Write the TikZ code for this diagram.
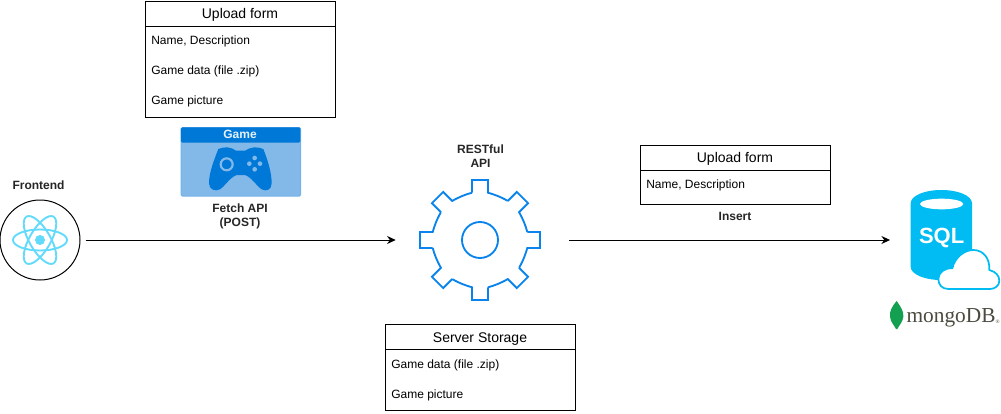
\documentclass[tikz,border=0pt]{standalone}
\usepackage{fontspec}
\setmainfont{Liberation Sans}
\newfontfamily\logofont{Liberation Serif}
\usetikzlibrary{arrows.meta}
\definecolor{gamedark}{HTML}{0078D7}
\definecolor{gamelight}{HTML}{83B9E9}
\definecolor{reactblue}{HTML}{61DAFB}
\definecolor{gearblue}{HTML}{0A84EC}
\definecolor{sqlblue}{HTML}{00BCF2}
\definecolor{leafgreen}{HTML}{13A050}
\definecolor{logogrey}{HTML}{4A4A40}
\tikzset{
  flow/.style={-{Stealth[length=6.5pt,width=6pt]},line width=.75pt,black},
  tablebox/.style={draw=black,fill=white,line width=.75pt,minimum width=142.5pt,inner sep=0pt,anchor=north west},
  headtxt/.style={font=\fontsize{10.5}{12}\selectfont,inner sep=0pt},
  rowtxt/.style={font=\fontsize{9}{10.5}\selectfont,inner sep=0pt,anchor=west},
  lbl/.style={font=\bfseries\fontsize{9}{10.5}\selectfont,inner sep=0pt,align=center,text=black!85},
  zoomed/.style={x=.25pt,y=-.25pt}
}
\begin{document}
\begin{tikzpicture}[x=.75pt,y=-.75pt]
\useasboundingbox (0,0) rectangle (1001,414);

% Frontend
\node[lbl] (frontlbl) at (38.5,185) {Frontend};
\node[circle,draw=black,fill=white,line width=.75pt,minimum size=60pt,inner sep=0pt] (react) at (40,240) {};
\foreach \a in {0,60,120}
  \draw[reactblue,line width=1.4pt,rotate around={\a:(40,240)}] (40,240) ellipse [x radius=27,y radius=10.5];
\fill[reactblue] (40,240) circle [radius=5];

% Game card
\node[draw=gamelight!90!gamedark,fill=gamelight,line width=.75pt,rounded corners=1pt,minimum width=89.5pt,minimum height=51.5pt,inner sep=0pt,anchor=north west] (card) at (180.7,127) {};
\node[fill=gamedark,rounded corners=1pt,minimum width=89.5pt,minimum height=11.5pt,inner sep=0pt,anchor=north west] (cardhead) at (180.7,127) {};
\node[font=\bfseries\fontsize{9}{10}\selectfont,text=white!90!gamedark,inner sep=0pt] (cardtitle) at (240,134) {Game};
\begin{scope}[shift={(0,120)},zoomed]
  \fill[gamedark] (655,87) .. controls (675,78) and (695,82) .. (708,92)
    -- (735,92) .. controls (750,82) and (770,78) .. (790,87)
    .. controls (805,125) and (815,160) .. (815,190)
    .. controls (815,208) and (800,216) .. (785,208)
    .. controls (770,198) and (755,172) .. (735,165)
    -- (710,165) .. controls (690,172) and (675,198) .. (660,208)
    .. controls (645,216) and (627,208) .. (627,190)
    .. controls (627,160) and (640,125) .. (655,87) -- cycle;
  \draw[gamelight,line width=1.6pt] (680,133) circle [radius=18];
  \foreach \p in {(764,114),(748,131),(780,131),(764,148)}
    \fill[gamelight] \p circle [radius=7];
\end{scope}
\node[lbl] (fetchlbl) at (240,216) {Fetch API\\(POST)};

% Upload form (left)
\node[tablebox,minimum height=87pt] (form) at (144.8,0.5) {};
\draw[line width=.75pt] (144.8,26.5) -- (334.8,26.5);
\node[headtxt] (formhead) at (240,15) {Upload form};
\node[rowtxt] (forma) at (151,41) {Name, Description};
\node[rowtxt] (formb) at (151,71) {Game data (file .zip)};
\node[rowtxt] (formc) at (151,101) {Game picture};

% Gear
\node[lbl] (apilbl) at (480.5,156) {RESTful\\API};
\node[circle,minimum size=90pt,inner sep=0pt] (api) at (480,240) {};
\begin{scope}[shift={(480,240)}]
\foreach \a in {0,45,...,315}{
  \begin{scope}[rotate=\a]
  \draw[gearblue,line width=1.4pt,line join=miter]
    (47.3,-8) -- (60,-8) -- (60,8) -- (47.3,8)
    .. controls (45.5,14.5) and (42.8,21.5) .. (39.1,27.8);
  \end{scope}
}
\draw[gearblue,line width=1.4pt] (0,0) circle [radius=18];
\end{scope}

% Upload form (right)
\node[tablebox,minimum height=44.25pt] (upload) at (639.8,144.5) {};
\draw[line width=.75pt] (639.8,170.5) -- (829.8,170.5);
\node[headtxt] (uploadhead) at (735,159) {Upload form};
\node[rowtxt] (uploada) at (646,185) {Name, Description};
\node[lbl] (insertlbl) at (735,216) {Insert};

% Server storage
\node[tablebox,minimum height=64.5pt] (storage) at (384.8,323.8) {};
\draw[line width=.75pt] (384.8,349.8) -- (574.8,349.8);
\node[headtxt] (storagehead) at (480,339) {Server Storage};
\node[rowtxt] (storagea) at (391,365) {Game data (file .zip)};
\node[rowtxt] (storageb) at (391,395) {Game picture};

% Database
\node[minimum width=70pt,minimum height=72pt,inner sep=0pt] (db) at (955,240) {};
\begin{scope}[shift={(870,175)},zoomed]
  \fill[sqlblue] (122,85) -- (122,275) .. controls (122,298) and (163,315) .. (214,315)
    .. controls (265,315) and (306,298) .. (306,275) -- (306,85)
    .. controls (306,62) and (265,45) .. (214,45) .. controls (163,45) and (122,62) .. (122,85) -- cycle;
  \fill[white] (215,87) ellipse [x radius=65,y radius=16];
  \node[font=\bfseries\fontsize{16.5}{18}\selectfont,text=white,inner sep=0pt] (sqltxt) at (215,190) {SQL};
  \draw[sqlblue,fill=white,line width=1.3pt,line join=round] (235,342)
    .. controls (215,342) and (205,328) .. (205,312)
    .. controls (205,292) and (225,278) .. (247,280)
    .. controls (255,245) and (285,225) .. (310,225)
    .. controls (340,225) and (360,250) .. (358,285)
    .. controls (378,290) and (388,303) .. (388,317)
    .. controls (388,332) and (375,342) .. (360,342) -- cycle;
  \fill[leafgreen] (80,378) .. controls (65,395) and (58,410) .. (60,425)
    .. controls (62,442) and (72,450) .. (78,462) -- (82,462)
    .. controls (88,450) and (98,442) .. (100,425)
    .. controls (102,410) and (92,395) .. (80,378) -- cycle;
  \node[font=\logofont\fontsize{16}{18}\selectfont,text=logogrey,inner sep=0pt,anchor=west] (mongo) at (109,428) {mongoDB\raisebox{-.5pt}{\fontsize{4}{4}\selectfont ®}};
\end{scope}

% Connectors
\draw[flow,shorten <=3.75pt,shorten >=18pt] (react.east) -- (api.west);
\draw[flow,shorten <=21.75pt,shorten >=13.5pt] (api.east) -- (db.west);
\end{tikzpicture}
\end{document}
